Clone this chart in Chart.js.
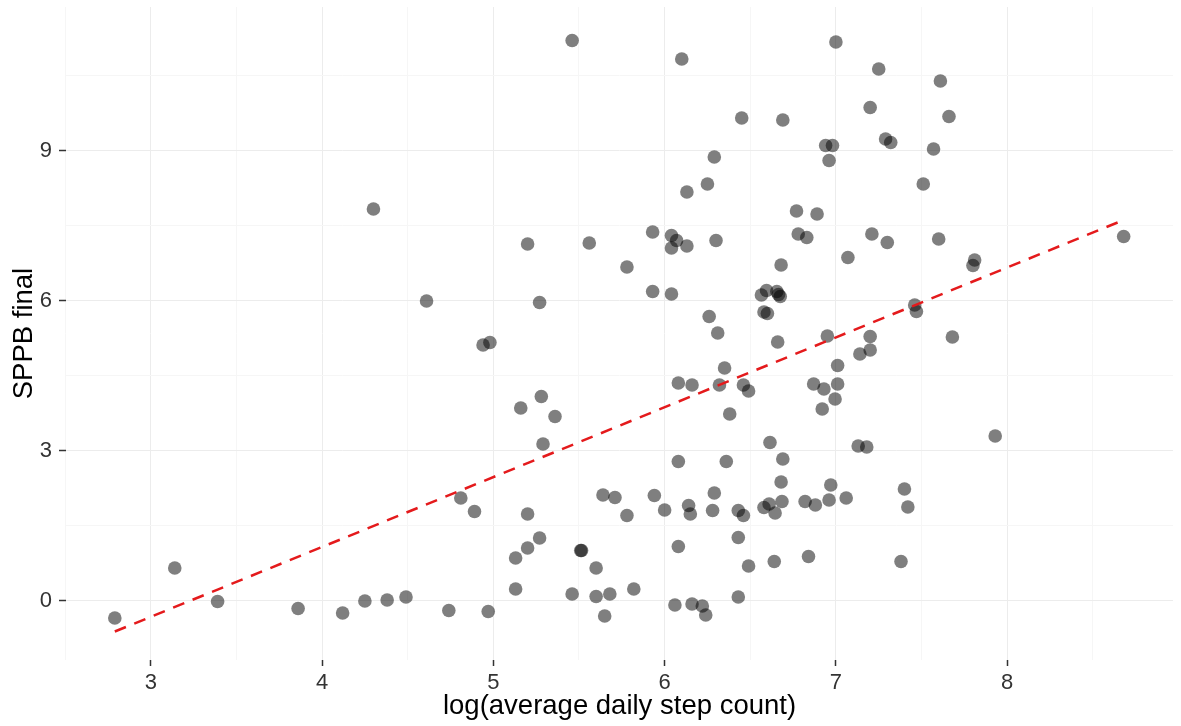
<!DOCTYPE html>
<html>
<head>
<meta charset="utf-8">
<script src="https://cdn.jsdelivr.net/npm/chart.js@4/dist/chart.umd.min.js"></script>
<style>
  html, body { margin: 0; padding: 0; background: #ffffff; }
  #wrap { width: 1181px; height: 726px; }
</style>
</head>
<body>
<div id="wrap"><canvas id="stepChart"></canvas></div>
<script>
// log(average daily step count) for each participant
const stepLog = [
  4.30, 5.46, 6.10, 6.45, 6.29, 6.25, 6.13, 5.93, 6.04, 6.07,
  6.04, 6.13, 6.30, 5.20, 5.56, 5.78, 5.93, 6.04, 4.61, 5.27,
  6.26, 6.31, 7.00, 7.25, 7.61, 7.20, 7.66, 6.69, 6.94, 6.98,
  6.96, 7.29, 7.32, 7.57, 7.51, 6.77, 6.89, 6.78, 6.83, 7.21,
  7.30, 7.60, 7.07, 6.68, 7.81, 7.80, 8.68, 7.46, 7.47, 6.565,
  6.595, 6.655, 6.665, 6.675, 6.58, 6.60, 4.94, 4.98, 6.66, 6.35,
  6.08, 6.16, 6.32, 6.46, 6.49, 6.38, 5.28, 5.16, 5.36, 5.29,
  6.615, 6.08, 6.36, 4.81, 4.89, 5.20, 5.64, 5.71, 5.78, 5.94,
  6.00, 6.14, 6.15, 6.28, 6.29, 6.43, 6.46, 6.58, 6.61, 6.645,
  6.685, 5.27, 5.20, 5.13, 5.51, 5.515, 5.60, 6.08, 6.43, 6.49,
  6.64, 5.13, 5.46, 5.60, 5.68, 5.82, 5.65, 6.06, 6.16, 6.22,
  6.24, 6.43, 4.38, 4.49, 4.74, 4.97, 2.79, 3.14, 3.39, 3.86,
  4.12, 4.25, 6.95, 7.20, 7.20, 7.14, 7.01, 6.87, 6.93, 7.01,
  6.995, 6.92, 7.68, 7.93, 7.13, 7.18, 6.69, 6.68, 6.97, 6.96,
  7.06, 6.82, 6.88, 7.40, 7.42, 6.84, 7.38
];

// final SPPB score, same order as stepLog
const sppbFinal = [
  7.83, 11.20, 10.83, 9.65, 8.87, 8.33, 8.17, 7.37, 7.30, 7.20,
  7.05, 7.09, 7.20, 7.13, 7.15, 6.67, 6.18, 6.13, 5.99, 5.96,
  5.68, 5.35, 11.17, 10.63, 10.39, 9.86, 9.68, 9.61, 9.10, 9.10,
  8.80, 9.23, 9.16, 9.03, 8.33, 7.79, 7.73, 7.33, 7.26, 7.33,
  7.16, 7.23, 6.86, 6.71, 6.81, 6.70, 7.28, 5.91, 5.78, 6.11,
  6.20, 6.18, 6.12, 6.08, 5.77, 5.74, 5.11, 5.16, 5.17, 4.65,
  4.35, 4.31, 4.31, 4.31, 4.19, 3.73, 4.08, 3.85, 3.68, 3.13,
  3.16, 2.78, 2.78, 2.05, 1.78, 1.73, 2.11, 2.06, 1.70, 2.10,
  1.81, 1.90, 1.73, 1.80, 2.15, 1.80, 1.70, 1.86, 1.93, 1.75,
  1.98, 1.25, 1.05, 0.85, 1.00, 1.00, 0.65, 1.08, 1.26, 0.69,
  0.78, 0.23, 0.13, 0.08, 0.13, 0.23, -0.31, -0.09, -0.07, -0.11,
  -0.29, 0.07, 0.01, 0.07, -0.20, -0.22, -0.35, 0.65, -0.02, -0.16,
  -0.25, -0.01, 5.29, 5.28, 5.01, 4.93, 4.70, 4.33, 4.23, 4.33,
  4.03, 3.83, 5.27, 3.29, 3.09, 3.07, 2.83, 2.37, 2.31, 2.01,
  2.05, 1.98, 1.91, 2.23, 1.87, 0.88, 0.78
];

// linear fit, drawn across the range of the data
const fitX = [2.79, 8.68];
const fitY = [-0.62, 7.61];

// labelled ticks and the minor grid in between
const xTicks = [3, 4, 5, 6, 7, 8];
const xMinor = [2.5, 3.5, 4.5, 5.5, 6.5, 7.5, 8.5];
const yTicks = [0, 3, 6, 9];
const yMinor = [1.5, 4.5, 7.5, 10.5];

const FONT = '"Liberation Sans", Arial, Helvetica, sans-serif';

const points = stepLog.map((x, i) => ({ x: x, y: sppbFinal[i] }));
const fitLine = fitX.map((x, i) => ({ x: x, y: fitY[i] }));

function setTicks(major, minor) {
  return function (scale) {
    scale.ticks = major.concat(minor).sort((a, b) => a - b).map(v => ({ value: v }));
  };
}

function gridColor(major) {
  return ctx => major.includes(ctx.tick.value) ? '#ececec' : '#f6f6f6';
}

function tickColor(major) {
  return ctx => major.includes(ctx.tick.value) ? '#333333' : 'rgba(0,0,0,0)';
}

const ctx = document.getElementById('stepChart').getContext('2d');
const stepChart = new Chart(ctx, {
  type: 'scatter',
  data: {
    datasets: [
      {
        type: 'line',
        label: 'fit',
        data: fitLine,
        borderColor: '#e41a1c',
        borderWidth: 2.5,
        borderDash: [12, 9],
        pointRadius: 0,
        fill: false,
        order: 0
      },
      {
        label: 'SPPB',
        data: points,
        backgroundColor: 'rgba(0,0,0,0.5)',
        borderWidth: 0,
        pointRadius: 6.8,
        order: 1
      }
    ]
  },
  options: {
    responsive: true,
    maintainAspectRatio: false,
    animation: false,
    layout: { padding: { top: 7, right: 8, left: 0, bottom: 0 } },
    plugins: {
      legend: { display: false },
      tooltip: { enabled: false }
    },
    scales: {
      x: {
        type: 'linear',
        min: 2.505,
        max: 8.968,
        afterBuildTicks: setTicks(xTicks, xMinor),
        afterFit: scale => {
          scale.height = 66;
          scale.paddingLeft = 0;
          scale.paddingRight = 0;
        },
        border: { display: false },
        grid: {
          color: gridColor(xTicks),
          tickColor: tickColor(xTicks),
          lineWidth: 1,
          tickLength: 6,
          tickWidth: 1.5
        },
        ticks: {
          autoSkip: false,
          maxRotation: 0,
          padding: 4,
          color: '#333333',
          font: { family: FONT, size: 22 },
          callback: v => xTicks.includes(v) ? String(v) : ''
        },
        title: {
          display: true,
          text: 'log(average daily step count)',
          color: '#000000',
          font: { family: FONT, size: 27.5 },
          padding: { top: 0, bottom: 3 }
        }
      },
      y: {
        type: 'linear',
        min: -1.19,
        max: 11.87,
        afterBuildTicks: setTicks(yTicks, yMinor),
        afterFit: scale => {
          scale.width = 66;
          scale.paddingTop = 0;
          scale.paddingBottom = 0;
        },
        border: { display: false },
        grid: {
          color: gridColor(yTicks),
          tickColor: tickColor(yTicks),
          lineWidth: 1,
          tickLength: 7,
          tickWidth: 1.5
        },
        ticks: {
          autoSkip: false,
          padding: 7,
          color: '#333333',
          font: { family: FONT, size: 22 },
          callback: v => yTicks.includes(v) ? String(v) : ''
        },
        title: {
          display: true,
          text: 'SPPB final',
          color: '#000000',
          font: { family: FONT, size: 27.5 },
          padding: { top: 8, bottom: 0 }
        }
      }
    }
  }
});
</script>
</body>
</html>
